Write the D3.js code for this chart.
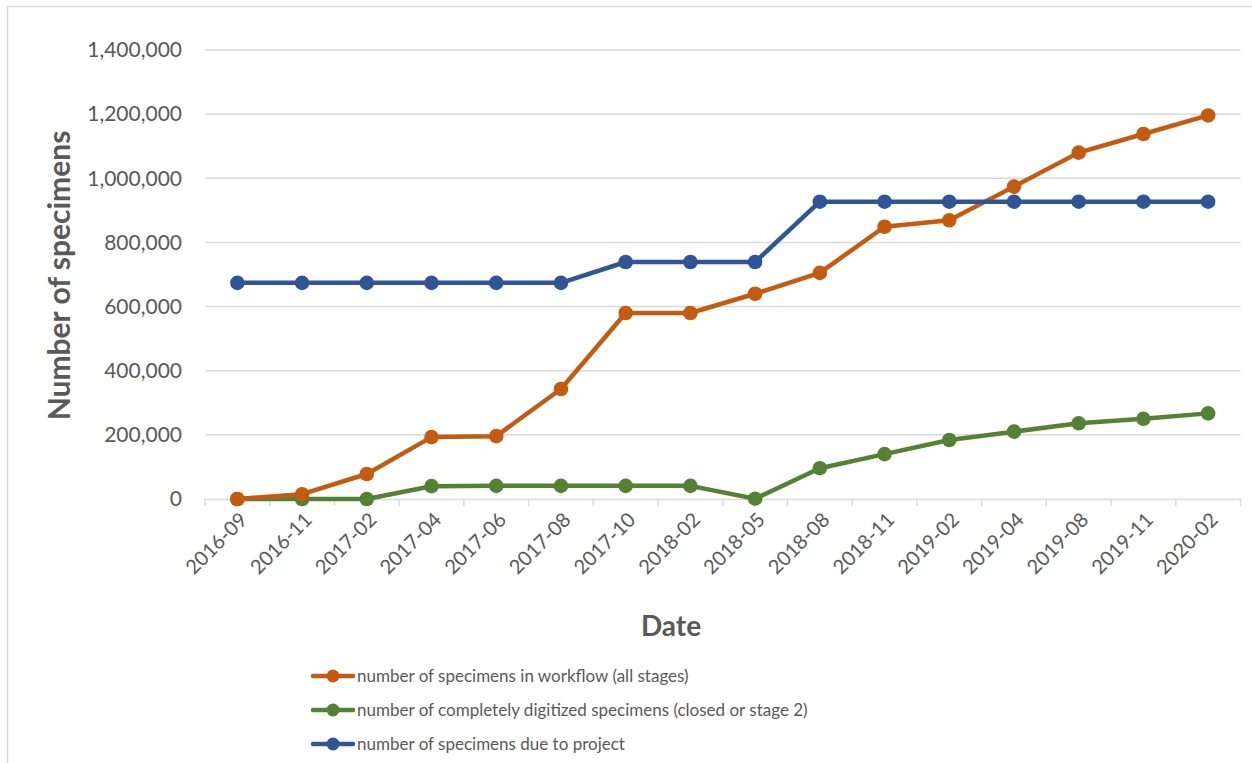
<!DOCTYPE html>
<html>
<head>
<meta charset="utf-8">
<script src="https://cdn.jsdelivr.net/npm/d3@7"></script>
<style>
  body { margin: 0; background: #fff; }
  text { font-family: Lato, "Open Sans", sans-serif; fill: #595959; }
</style>
</head>
<body>
<div id="chartContainer"></div>
<script>
// Data
const dates = ["2016-09", "2016-11", "2017-02", "2017-04", "2017-06", "2017-08", "2017-10", "2018-02",
               "2018-05", "2018-08", "2018-11", "2019-02", "2019-04", "2019-08", "2019-11", "2020-02"];
const workflow = [0, 15000, 78000, 193000, 196000, 343000, 580000, 580000,
                  640000, 705000, 849000, 869000, 974000, 1080000, 1138000, 1196000];
const digitized = [0, 0, 0, 40000, 41000, 41000, 41000, 41000,
                   1000, 96000, 140000, 184000, 210000, 236000, 250000, 267000];
const dueToProject = [674000, 674000, 674000, 674000, 674000, 674000, 739000, 739000,
                      739000, 927000, 927000, 927000, 927000, 927000, 927000, 927000];
const yTicks = [0, 200000, 400000, 600000, 800000, 1000000, 1200000, 1400000];

const seriesNames = [
    "number of specimens in workflow (all stages)",
    "number of completely digitized specimens (closed or stage 2)",
    "number of specimens due to project"
];
const colors = ["#C55A11", "#548235", "#2F5597"];

const series = [workflow, digitized, dueToProject].map((vals, i) => ({
    name: seriesNames[i],
    color: colors[i],
    values: vals.map((v, j) => ({date: dates[j], value: v}))
}));

const W = 1252, H = 763;
const margin = {top: 50, left: 205, right: 11.5, bottom: 264};
const width = W - margin.left - margin.right;
const height = H - margin.top - margin.bottom;

const root = d3.select("#chartContainer")
    .append("svg")
    .attr("width", W)
    .attr("height", H);

// outer chart border
root.append("rect")
    .attr("x", 7.5).attr("y", 6.5)
    .attr("width", W + 20).attr("height", H + 20)
    .attr("fill", "none")
    .attr("stroke", "#D9D9D9")
    .attr("stroke-width", 1.5);

const svg = root.append("g")
    .attr("transform", `translate(${margin.left}, ${margin.top})`);

const xScale = d3.scaleBand()
    .domain(dates)
    .range([0, width]);

const yScale = d3.scaleLinear()
    .domain([0, 1400000])
    .range([height, 0]);

// gridlines
svg.append("g")
    .selectAll("line")
    .data(yTicks.slice(1))
    .join("line")
    .attr("x1", 0).attr("x2", width)
    .attr("y1", d => yScale(d)).attr("y2", d => yScale(d))
    .attr("stroke", "#D9D9D9")
    .attr("stroke-width", 1.5);

// y axis labels
const yAxis = d3.axisLeft(yScale)
    .tickValues(yTicks)
    .tickFormat(d3.format(","))
    .tickSize(0)
    .tickPadding(23);

svg.append("g")
    .call(yAxis)
    .call(g => g.select(".domain").remove())
    .selectAll("text")
    .style("font-size", "21px")
    .style("font-family", "Lato, sans-serif")
    .attr("fill", "#595959");

// x axis
const xAxis = d3.axisBottom(xScale)
    .tickSizeInner(0)
    .tickSizeOuter(0);

const xg = svg.append("g")
    .attr("transform", `translate(0,${height})`)
    .call(xAxis);

xg.select(".domain").attr("stroke", "#D9D9D9").attr("stroke-width", 1.5);

// tick marks at category boundaries
xg.append("g")
    .selectAll("line")
    .data(d3.range(dates.length + 1))
    .join("line")
    .attr("x1", i => i * xScale.step())
    .attr("x2", i => i * xScale.step())
    .attr("y1", 0).attr("y2", 7)
    .attr("stroke", "#D9D9D9")
    .attr("stroke-width", 1.5);

xg.selectAll(".tick text")
    .style("font-size", "20px")
    .style("font-family", "Lato, sans-serif")
    .attr("fill", "#595959")
    .attr("text-anchor", "end")
    .attr("dy", "0")
    .attr("transform", "translate(9,20) rotate(-45)");

// axis titles
svg.append("text")
    .attr("x", 466)
    .attr("y", height + 137)
    .attr("text-anchor", "middle")
    .style("font-size", "28px")
    .style("font-weight", "bold")
    .text("Date");

svg.append("text")
    .attr("transform", `translate(${-135}, ${height / 2 + 1}) rotate(-90)`)
    .attr("text-anchor", "middle")
    .style("font-size", "30px")
    .style("font-weight", "bold")
    .text("Number of specimens");

// lines and markers
const lineGenerator = d3.line()
    .x(d => xScale(d.date) + xScale.bandwidth() / 2)
    .y(d => yScale(d.value));

const drawOrder = [1, 0, 2];
drawOrder.forEach(i => {
    const s = series[i];
    svg.append("path")
        .datum(s.values)
        .attr("fill", "none")
        .attr("stroke", s.color)
        .attr("stroke-width", 4.5)
        .attr("stroke-linejoin", "round")
        .attr("d", lineGenerator);

    svg.selectAll(`.pt-${i}`)
        .data(s.values)
        .join("circle")
        .attr("class", `pt-${i}`)
        .attr("cx", d => xScale(d.date) + xScale.bandwidth() / 2)
        .attr("cy", d => yScale(d.value))
        .attr("r", 7.3)
        .attr("fill", s.color);
});

// legend
const legend = root.append("g")
    .attr("transform", "translate(313, 676)");

series.forEach((s, i) => {
    const row = legend.append("g")
        .attr("transform", `translate(0, ${i * 34})`);
    row.append("line")
        .attr("x1", 0).attr("x2", 40)
        .attr("y1", 0).attr("y2", 0)
        .attr("stroke", s.color)
        .attr("stroke-width", 4.5)
        .attr("stroke-linecap", "round");
    row.append("circle")
        .attr("cx", 20).attr("cy", 0)
        .attr("r", 6.5)
        .attr("fill", s.color);
    row.append("text")
        .attr("x", 44)
        .attr("y", 0)
        .attr("dy", "0.35em")
        .style("font-size", "17px")
        .text(s.name);
});
</script>
</body>
</html>
